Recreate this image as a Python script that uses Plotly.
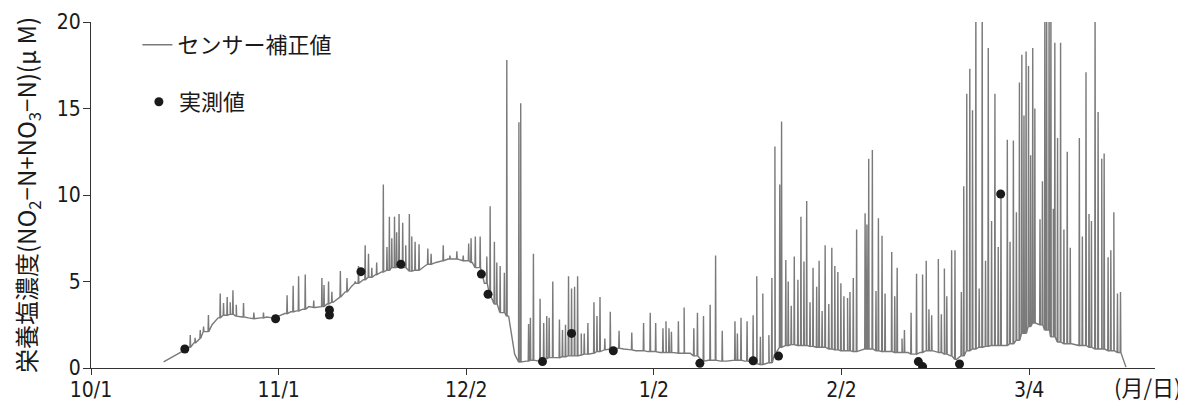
import pandas as pd
import plotly.graph_objects as go

START = pd.Timestamp("2019-10-01")

# ---- sensor-corrected series: daily baseline (day offsets from 10/1) ----
base_first_day = 12
base_vals = [
    0.35, 0.55, 0.75, 0.95, 1.2, 1.45, 1.7, 2.1, 2.5, 2.9,          # 12-21
    3.05, 3.1, 3.0, 2.95, 2.9, 2.85, 2.9, 2.95, 2.9, 3.0,           # 22-31
    3.15, 3.25, 3.3, 3.4, 3.55, 3.5, 3.55, 3.7, 3.8, 4.1,           # 32-41
    4.4, 4.7, 4.9, 5.1, 5.25, 5.4, 5.55, 5.65, 5.8, 5.95,           # 42-51
    5.8, 5.6, 5.65, 5.85, 6.0, 6.1, 6.2, 6.3, 6.3, 6.25,            # 52-61
    6.2, 6.1, 5.8, 4.9, 4.2, 3.7, 3.2, 3.0, 0.8, 0.35,              # 62-71
    0.4, 0.45, 0.4, 0.55, 0.6, 0.6, 0.65, 0.7, 0.7, 0.75,           # 72-81
    0.8, 0.85, 0.95, 1.05, 1.1, 1.15, 1.1, 1.05, 1.0, 1.0,          # 82-91
    0.95, 0.95, 0.9, 0.9, 0.9, 0.85, 0.85, 0.85, 0.7, 0.4,          # 92-101
    0.45, 0.45, 0.4, 0.4, 0.45, 0.45, 0.4, 0.35, 0.25, 0.2,         # 102-111
    0.3, 0.8, 1.2, 1.3, 1.35, 1.3, 1.3, 1.25, 1.2, 1.2,             # 112-121
    1.1, 1.05, 1.0, 1.0, 0.95, 1.0, 1.1, 1.1, 1.0, 0.95,            # 122-131
    0.95, 0.9, 0.9, 0.9, 0.8, 0.9, 1.0, 1.0, 0.9, 0.8,              # 132-141
    0.7, 0.5, 0.7, 1.0, 1.1, 1.2, 1.25, 1.3, 1.3, 1.3,              # 142-151
    1.4, 1.6, 2.0, 2.4, 2.6, 2.5, 2.2, 1.8, 1.5, 1.4,               # 152-161
    1.4, 1.3, 1.3, 1.2, 1.1, 1.1, 1.0, 1.0, 0.9, 0.05,              # 162-171
]

# ---- sensor spikes (day offset, peak value) ----
spike_days = [
    16.4, 17.2, 18.05, 18.6, 19.4, 21.35, 21.9, 22.5, 23.0, 23.45, 24.0, 25.2,
    26.9, 28.5, 32.4, 33.4, 34.3, 35.4, 36.8, 38.15, 38.5, 39.25, 39.8, 41.2,
    42.3, 43.65, 44.2, 45.3, 45.85, 46.4, 47.2, 48.3, 48.9, 49.3, 49.7, 50.15,
    50.5, 50.9, 51.5, 52.0, 52.6, 53.0, 53.55, 54.2, 55.65, 56.2, 58.2, 59.3,
    60.45, 61.5, 62.4, 62.8, 63.5, 64.3, 65.4, 65.95, 66.65, 67.05, 67.6, 68.3,
    68.7, 70.7, 71.0, 72.3, 72.6, 73.1, 74.2, 74.8, 75.3, 75.7, 76.3, 77.4,
    77.9, 78.4, 78.9, 79.4, 79.9, 80.4, 81.0, 81.5, 82.1, 83.1, 83.6, 84.1,
    84.9, 85.8, 87.25, 89.35, 91.3, 92.4, 93.3, 94.5, 95.0, 95.5, 95.9, 97.05,
    98.0, 99.6, 100.2, 101.2, 102.3, 103.2, 104.3, 106.4, 106.8, 107.4, 108.4,
    109.4, 110.0, 110.6, 111.0, 112.0, 112.5, 113.0, 113.8, 114.1, 114.8, 115.2,
    115.7, 116.2, 116.8, 117.3, 117.8, 118.25, 118.8, 119.3, 119.9, 120.3, 120.8,
    121.3, 121.9, 122.4, 122.9, 123.4, 123.9, 124.4, 125.0, 125.4, 125.95, 126.5,
    127.9, 128.2, 128.5, 129.1, 129.7, 130.1, 130.7, 131.2, 132.3, 132.8, 133.2,
    134.0, 134.4, 135.5, 136.4, 137.4, 138.0, 138.45, 138.9, 140.0, 140.5, 141.0,
    141.4, 142.2, 142.75, 143.8, 144.2, 144.7, 145.2, 145.65, 146.2, 146.75,
    147.25, 147.8, 148.25, 148.8, 149.35, 149.9, 150.35, 151.4, 151.85, 152.4,
    152.9, 153.4, 153.8, 154.15, 154.5, 154.9, 155.25, 155.6, 155.95, 156.8,
    157.2, 157.6, 157.9, 158.3, 158.6, 159.0, 159.25, 159.7, 160.2, 160.75,
    161.3, 161.8, 163.3, 163.8, 164.4, 164.9, 165.3, 165.9, 166.4, 167.0, 167.4,
    168.05, 168.5, 169.0, 169.6, 170.1,
]
spike_vals = [
    1.9, 1.75, 2.2, 2.4, 3.06, 4.3, 3.75, 4.1, 3.8, 4.5, 3.65, 3.75,
    3.2, 3.2, 4.2, 4.75, 5.3, 5.4, 3.9, 5.2, 4.8, 5.0, 4.4, 5.6,
    5.2, 5.0, 5.9, 7.1, 6.6, 5.8, 6.1, 10.6, 7.0, 8.75, 7.5, 8.75,
    7.85, 8.9, 8.4, 7.1, 8.9, 7.6, 7.3, 7.15, 6.9, 6.6, 7.1, 6.5,
    6.75, 6.5, 7.2, 7.5, 7.6, 7.6, 6.45, 9.35, 7.3, 6.1, 5.9, 5.5,
    17.8, 14.2, 15.3, 2.55, 2.9, 6.6, 4.0, 2.6, 3.0, 2.9, 5.0, 2.8,
    2.2, 2.5, 5.3, 4.6, 4.7, 5.3, 2.0, 2.0, 2.6, 3.8, 3.0, 4.1,
    1.7, 3.25, 2.15, 2.05, 2.6, 3.2, 2.6, 2.3, 2.7, 2.3, 2.1, 2.7,
    3.5, 2.3, 3.2, 3.0, 3.65, 6.5, 2.15, 2.7, 2.0, 2.9, 2.7,
    3.05, 5.3, 1.8, 4.3, 1.9, 5.2, 12.8, 10.6, 14.25, 6.25, 5.0,
    3.6, 6.45, 5.1, 8.75, 6.15, 9.65, 3.8, 5.8, 4.7, 6.2, 3.3,
    7.1, 3.7, 6.95, 5.9, 5.55, 4.9, 4.15, 4.05, 4.4, 5.2, 8.0,
    8.95, 8.3, 12.1, 12.6, 4.45, 8.65, 7.65, 4.3, 6.7, 4.15, 5.8,
    1.7, 2.2, 3.2, 5.45, 5.4, 6.2, 3.4, 3.05, 6.3, 3.1, 5.75,
    4.15, 6.8, 6.8, 4.4, 10.5, 15.85, 17.3, 14.9, 22.0, 4.6,
    22.0, 6.2, 18.5, 8.5, 15.85, 7.0, 9.9, 13.2, 7.3, 13.15,
    9.0, 16.5, 18.1, 14.6, 18.3, 17.45, 12.3, 18.5, 15.0, 8.6,
    10.8, 22.0, 22.0, 22.0, 22.0, 9.2, 18.8, 13.3, 18.8, 8.0,
    12.5, 6.95, 13.3, 7.6, 17.1, 8.9, 8.5, 21.0, 14.8, 12.1, 12.4,
    6.4, 6.8, 9.0, 4.3, 4.4,
]

# ---- measured values (day offset, value) ----
meas_days = [15.5, 30.5, 39.4, 39.4, 44.6, 51.2, 64.5, 65.6, 74.6, 79.4, 86.3,
             100.6, 109.4, 113.6, 136.7, 137.4, 143.5, 150.3]
meas_vals = [1.1, 2.85, 3.35, 3.06, 5.57, 6.0, 5.43, 4.26, 0.37, 2.0, 1.0,
             0.27, 0.42, 0.69, 0.37, 0.08, 0.23, 10.06]

# ---- axes ----
tick_days = [0, 31, 62, 93, 124, 155]
tick_labels = ["10/1", "11/1", "12/2", "1/2", "2/2", "3/4"]
y_ticks = [0, 5, 10, 15, 20]
x_max_day = 175.8


def to_date(d):
    return START + pd.to_timedelta(d, unit="D")


# build sensor line: baseline readings plus narrow spikes rising from the baseline
pts = [(base_first_day + i, v) for i, v in enumerate(base_vals)]
for t, p in zip(spike_days, spike_vals):
    foot = base_vals[int(round(t)) - base_first_day]
    pts += [(t - 0.06, foot), (t, p), (t + 0.06, foot)]
pts.sort()
sx = [to_date(t) for t, _ in pts]
sy = [v for _, v in pts]

FONT = "Noto Sans CJK JP"
NUM = "Liberation Sans Narrow, DejaVu Sans Condensed, Noto Sans CJK JP"
AX = "#333333"

fig = go.Figure()
fig.add_trace(go.Scatter(
    x=sx, y=sy, mode="lines", name="センサー補正値",
    line=dict(color="#7a7a7a", width=1.4), legend="legend",
))
fig.add_trace(go.Scatter(
    x=[to_date(d) for d in meas_days], y=meas_vals, mode="markers", name="実測値",
    marker=dict(color="#1a1a1a", size=9), legend="legend2",
))

# the page body adds an 8px offset, so the figure is 8px smaller than the window
fig.update_layout(
    width=1178, height=395,
    margin=dict(l=83, r=31, t=14, b=35, autoexpand=False),
    paper_bgcolor="white", plot_bgcolor="white",
    font=dict(family=FONT, size=20, color="#1a1a1a"),
    showlegend=True,
    legend=dict(x=0.0436, y=0.9335, xanchor="left", yanchor="middle",
                bgcolor="rgba(0,0,0,0)", font=dict(size=22), itemwidth=30),
    legend2=dict(x=0.045, y=0.769, xanchor="left", yanchor="middle",
                 bgcolor="rgba(0,0,0,0)", font=dict(size=22), itemwidth=30),
)
fig.update_xaxes(
    type="date", range=[to_date(0), to_date(x_max_day)], automargin=False,
    tickmode="array", tickvals=[to_date(d) for d in tick_days], ticktext=tick_labels,
    showgrid=False, zeroline=False, showline=True, linecolor=AX, linewidth=1,
    ticks="outside", ticklen=6, tickcolor=AX, tickwidth=1, ticklabelstandoff=-3,
    tickfont=dict(family=NUM, size=21),
)
fig.update_yaxes(
    range=[0, 20], tickmode="array", tickvals=y_ticks, automargin=False,
    showgrid=False, zeroline=False, showline=True, linecolor=AX, linewidth=1,
    ticks="outside", ticklen=7, tickcolor=AX, tickwidth=1, ticklabelstandoff=-2,
    tickfont=dict(family=NUM, size=21),
    title=dict(text="栄養塩濃度(NO<sub>2</sub>−N+NO<sub>3</sub>−N)(μ M)",
               font=dict(size=24), standoff=21),
)
fig.add_annotation(
    text="(月/日)", xref="paper", yref="paper", x=1.0272, y=-0.052,
    xanchor="right", yanchor="middle", showarrow=False, font=dict(size=22),
)

fig.write_html("out.html")
